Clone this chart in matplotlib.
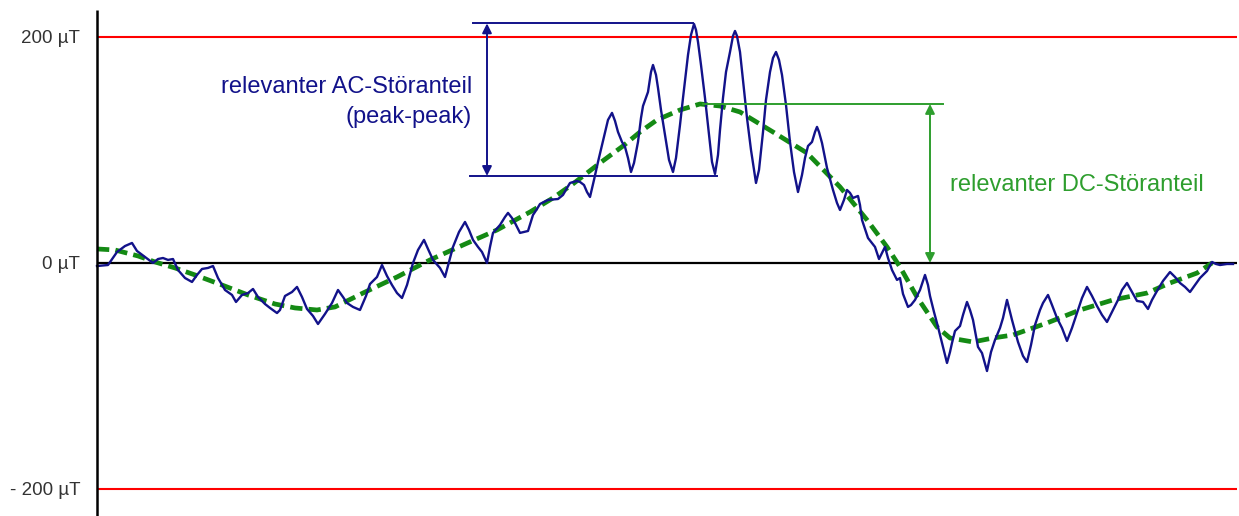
import matplotlib
matplotlib.use("Agg")
import matplotlib.pyplot as plt

plt.rcParams['font.family'] = ['Liberation Sans', 'DejaVu Sans']

# ---------------- data (time in arbitrary units, field in µT) ----------------
t_meas = [97, 108, 117, 125, 132, 137, 145, 153, 158, 163, 168, 173, 178, 185, 192, 197,
          202, 208, 213, 218, 225, 232, 236, 242, 248, 253, 258, 265, 270, 277, 280, 285,
          292, 297, 302, 307, 313, 318, 325, 332, 338, 343, 347, 353, 360, 366, 370, 377,
          382, 387, 392, 397, 402, 407, 413, 418, 424, 428, 433, 440, 445, 449, 453, 459,
          465, 469, 473, 478, 482, 487, 490, 493, 500, 505, 508, 512, 515, 520, 524, 528,
          533, 537, 540, 548, 558, 563, 567, 570, 577, 580, 584, 587, 590, 594, 598, 602,
          605, 608, 612, 615, 618, 622, 625, 628, 631, 634, 638, 641, 643, 648, 651, 653,
          656, 658, 661, 665, 669, 673, 676, 680, 683, 686, 688, 691, 694, 696, 698, 701,
          705, 709, 712, 715, 718, 720, 723, 726, 730, 733, 735, 737, 740, 743, 747, 751,
          756, 759, 763, 766, 770, 773, 776, 779, 782, 786, 790, 794, 798, 802, 805, 808,
          812, 815, 817, 819, 822, 827, 833, 837, 840, 844, 847, 850, 853, 858, 860, 862,
          868, 875, 879, 882, 885, 888, 892, 897, 900, 903, 908, 911, 915, 920, 923, 925,
          928, 930, 934, 938, 942, 947, 950, 952, 955, 960, 963, 967, 970, 973, 978, 982,
          987, 991, 995, 1000, 1003, 1007, 1012, 1018, 1023, 1027, 1031, 1035, 1040, 1043,
          1048, 1052, 1057, 1062, 1067, 1072, 1077, 1082, 1087, 1092, 1097, 1102, 1107,
          1112, 1118, 1122, 1127, 1132, 1137, 1143, 1148, 1152, 1157, 1163, 1170, 1175,
          1180, 1185, 1190, 1195, 1200, 1207, 1212, 1216, 1220, 1227, 1233]
b_meas = [-2.7, -1.8, 9.7, 15.0, 17.7, 10.6, 5.3, 0.0, 3.5, 4.4, 2.7, 3.5, -6.2, -13.3, -16.8, -10.6,
          -5.3, -4.4, -2.7, -13.3, -23.9, -28.3, -34.5, -28.3, -26.6, -23.0, -30.1, -36.3, -39.8, -44.3, -41.6, -29.2,
          -25.7, -21.2, -30.1, -40.7, -46.9, -54.0, -45.1, -35.4, -23.9, -30.1, -35.4, -38.9, -41.6, -29.2, -18.6, -12.4,
          -1.8, -11.5, -19.5, -26.6, -31.0, -19.5, 0.0, 11.5, 20.4, 12.4, 2.7, -4.4, -12.4, 0.9, 14.2, 27.4,
          36.3, 29.2, 20.4, 14.2, 9.7, 0.0, 14.2, 26.6, 33.6, 40.7, 44.3, 39.8, 35.4, 26.6, 27.4, 28.3,
          42.5, 47.8, 52.2, 55.8, 56.6, 60.2, 66.4, 70.8, 72.6, 71.7, 69.0, 62.8, 58.4, 73.5, 89.4, 104.4,
          115.9, 126.6, 132.8, 125.7, 115.9, 107.1, 102.7, 92.9, 80.5, 88.5, 107.1, 128.3, 138.9, 151.3, 169.0, 175.2,
          166.4, 154.9, 135.4, 113.3, 91.2, 80.5, 92.9, 122.1, 146.0, 169.0, 184.1, 201.8, 211.5, 206.2, 195.6, 175.2,
          146.0, 113.3, 89.4, 78.8, 95.6, 117.7, 146.0, 169.0, 186.7, 200.9, 205.3, 200.9, 186.7, 162.0, 128.3, 100.0,
          70.8, 82.3, 115.9, 144.3, 169.0, 181.4, 186.7, 179.7, 166.4, 139.8, 107.1, 80.5, 62.8, 77.9, 92.9, 103.5,
          107.1, 115.9, 120.4, 115.9, 106.2, 84.1, 64.6, 53.1, 46.9, 55.8, 64.6, 62.0, 57.5, 59.3, 51.3, 38.1,
          22.1, 14.2, 3.5, 8.9, 14.2, 4.4, -6.2, -15.0, -13.3, -27.4, -38.9, -37.2, -32.7, -23.9, -15.9, -10.6,
          -19.5, -29.2, -43.4, -56.6, -70.8, -88.5, -78.8, -70.8, -60.2, -55.8, -46.0, -34.5, -41.6, -50.4, -74.3, -79.7,
          -95.6, -78.8, -68.1, -57.5, -48.7, -32.7, -50.4, -69.9, -82.3, -87.6, -72.6, -54.9, -41.6, -35.4,
          -28.3, -37.2, -48.7, -57.5, -69.0, -57.5, -44.3, -31.0, -21.2, -29.2, -38.1, -46.0, -52.2,
          -43.4, -32.7, -23.9, -17.7, -25.7, -33.6, -34.5, -40.7, -32.7, -24.8, -15.9, -8.0, -12.4,
          -17.7, -21.2, -25.7, -19.5, -13.3, -7.1, 0.9, -0.9, -1.8, -0.9, -0.9]

t_dc = [97, 115, 138, 155, 175, 195, 222, 248, 275, 295, 317, 335, 363, 397, 430, 463,
        497, 530, 553, 573, 600, 623, 640, 657, 680, 700, 720, 740, 773, 807, 840, 867,
        887, 900, 917, 937, 950, 973, 993, 1013, 1047, 1080, 1113, 1147, 1170, 1197, 1212]
b_dc = [12.4, 11.5, 6.2, 0.9, -4.4, -10.6, -19.5, -28.3, -36.3, -39.8, -41.6, -38.9, -26.6, -12.4, 2.7, 15.9,
        29.2, 45.1, 57.5, 70.0, 88.5, 103.5, 115.9, 126.6, 135.4, 140.7, 138.9, 133.6, 115.9, 97.3, 67.3, 38.1,
        14.2, -3.5, -30.1, -56.6, -66.4, -69.9, -66.4, -63.7, -53.1, -41.6, -32.7, -26.6, -17.7, -8.9, 0.0]

limit_values = [200, -200]
tick_values = [200, 0, -200]
tick_labels = ['200 µT', '0 µT', '- 200 µT']

ac_max, ac_min = 212.0, 77.0
dc_level = 140.7
ac_label = ['relevanter AC-Störanteil', '(peak-peak)']
dc_label = 'relevanter DC-Störanteil'

# ---------------- styles ----------------
NAVY = '#12128a'
GREEN = '#148a14'
GREEN_ANN = '#2e9e2e'
RED = '#ff0000'
TXT = '#333333'

fig = plt.figure(figsize=(12.39, 5.16), dpi=100)
ax = fig.add_axes([0, 0, 1, 1])
ax.set_xlim(0, 1239)
ax.set_ylim(-223.9, 232.7)
ax.axis('off')

t0 = t_meas[0]
t_end = 1237

# limit lines
for v in limit_values:
    ax.plot([t0, t_end], [v, v], color=RED, lw=1.5, solid_capstyle='butt', zorder=2)
# zero line and vertical axis
ax.plot([t0, t_end], [0, 0], color='black', lw=1.6, solid_capstyle='butt', zorder=2)
ax.plot([t0, t0], [-223.9, 224], color='black', lw=1.8, solid_capstyle='butt', zorder=5)

# tick labels
for v, lab in zip(tick_values, tick_labels):
    ax.text(80, v - 1.5, lab, ha='right', va='center', fontsize=13.5, color=TXT)

# measured signal
ax.plot(t_meas, b_meas, color=NAVY, lw=1.7, zorder=4, solid_joinstyle='round')
# DC part
ax.plot(t_dc, b_dc, color=GREEN, lw=3.4, dashes=(2.6, 1.3), zorder=3)

# AC annotation
ax.plot([473, 693], [ac_max, ac_max], color=NAVY, lw=1.4, zorder=4)
ax.plot([470, 717], [ac_min, ac_min], color=NAVY, lw=1.4, zorder=4)
ax.annotate('', xy=(487, ac_max), xytext=(487, ac_min),
            arrowprops=dict(arrowstyle='<|-|>', color=NAVY, lw=1.4,
                            mutation_scale=14, shrinkA=0, shrinkB=0), zorder=4)
ax.text(472, 155.5, ac_label[0], ha='right', va='center', fontsize=17, color=NAVY)
ax.text(472, 129, ac_label[1], ha='right', va='center', fontsize=17, color=NAVY)

# DC annotation
ax.plot([703, 943], [dc_level, dc_level], color=GREEN_ANN, lw=1.4, zorder=4)
ax.annotate('', xy=(930, dc_level), xytext=(930, 0),
            arrowprops=dict(arrowstyle='<|-|>', color=GREEN_ANN, lw=1.4,
                            mutation_scale=14, shrinkA=0, shrinkB=0), zorder=4)
ax.text(950, 69, dc_label, ha='left', va='center', fontsize=17, color=GREEN_ANN)

fig.savefig('out.png', dpi=100)
